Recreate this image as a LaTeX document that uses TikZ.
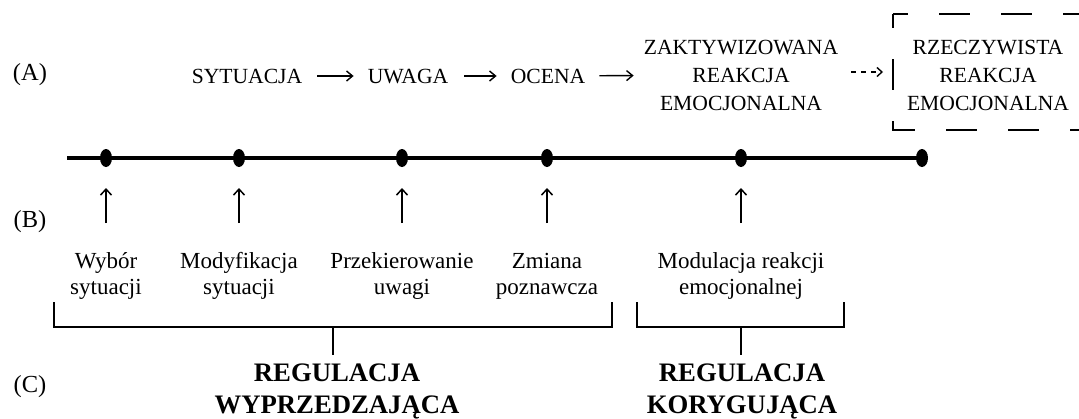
\documentclass[tikz,border=0pt]{standalone}
\usepackage{fontspec}
\setmainfont{Liberation Serif}
\usetikzlibrary{arrows.meta,shapes.geometric}
\begin{document}
\begin{tikzpicture}[x=1pt,y=-1pt,
  atext/.style={inner sep=0pt, font=\fontsize{21.6}{28}\selectfont, align=center},
  aone/.style={atext, text height=14.3pt, text depth=0pt},
  btext/.style={inner sep=0pt, font=\fontsize{23}{26.5}\selectfont, align=center, anchor=north},
  ctext/.style={inner sep=0pt, font=\fontsize{26.7}{32}\selectfont\bfseries, align=center, anchor=north},
  lbl/.style={inner sep=0pt, font=\fontsize{24.5}{28}\selectfont},
  tdot/.style={ellipse, fill=black, minimum width=12pt, minimum height=18pt, inner sep=0pt},
  flow/.style={line width=1.4pt, -{Straight Barb[length=6pt,width=10pt,line width=1.4pt]}},
  dashflow/.style={line width=1.4pt, dash pattern=on 5pt off 5pt, -{Straight Barb[length=5pt,width=9pt,line width=1.4pt]}},
  uparrow/.style={line width=1.5pt, -{Straight Barb[length=6pt,width=11pt,line width=1.5pt]}},
  timeline/.style={line width=4pt},
  bracketline/.style={line width=2pt},
  boxline/.style={line width=2.6pt, dash pattern=on 31pt off 31pt}
]
\fill[white] (0,0) rectangle (1079,418);
\useasboundingbox (0,0) rectangle (1079,418);

% row labels
\node[lbl] (la) at (30,75) {(A)};
\node[lbl] (lb) at (30,222) {(B)};
\node[lbl] (lc) at (30,387) {(C)};

% row A
\node[aone] (syt) at (247,76) {SYTUACJA};
\node[aone] (uwa) at (408,76) {UWAGA};
\node[aone] (oce) at (548,76) {OCENA};
\node[atext] (zak) at (741,75) {ZAKTYWIZOWANA\\REAKCJA\\EMOCJONALNA};
\node[atext] (rz) at (988,75) {RZECZYWISTA\\REAKCJA\\EMOCJONALNA};
\coordinate (boxnw) at (893,14);
\coordinate (boxsw) at (893,130);
\coordinate (boxw) at (893,72);
\coordinate (boxne) at (1079,14);
\coordinate (boxse) at (1079,130);

\draw[flow, shorten <=15pt, shorten >=14pt] (syt) -- (uwa);
\draw[flow, shorten <=16pt, shorten >=14pt] (uwa) -- (oce);
\draw[flow, shorten <=14pt, shorten >=10pt] (oce) -- (zak);
\draw[dashflow, shorten <=13pt, shorten >=10pt] (zak.east |- boxw) -- (boxw);
\draw[boxline, dash phase=17pt] (boxnw) -- (boxsw) -- (boxse);
\draw[boxline, dash phase=16pt] (boxnw) -- (boxne);

% timeline
\coordinate (t0) at (67,158);
\node[tdot] (d1) at (106,158) {};
\node[tdot] (d2) at (239,158) {};
\node[tdot] (d3) at (402,158) {};
\node[tdot] (d4) at (547,158) {};
\node[tdot] (d5) at (741,158) {};
\node[tdot] (d6) at (922,158) {};
\draw[timeline] (t0) -- (d6.center);

% row B
\node[btext] (wyb) at (d1 |- 0,252) {\rule{0pt}{16pt}Wybór\\sytuacji};
\node[btext] (mod) at (d2 |- 0,252) {\rule{0pt}{16pt}Modyfikacja\\sytuacji};
\node[btext] (prz) at (d3 |- 0,252) {\rule{0pt}{16pt}Przekierowanie\\uwagi};
\node[btext] (zmi) at (d4 |- 0,252) {\rule{0pt}{16pt}Zmiana\\poznawcza};
\node[btext] (mdr) at (d5 |- 0,252) {\rule{0pt}{16pt}Modulacja reakcji\\emocjonalnej};

\foreach \n/\d in {wyb/d1, mod/d2, prz/d3, zmi/d4, mdr/d5}
  \draw[uparrow, shorten <=29pt, shorten >=30pt] (\d.center |- \n.north) -- (\d.center);

% brackets
\coordinate (b1a) at (54,302);
\coordinate (b1b) at (612,302);
\coordinate (b1m) at (333,327);
\coordinate (b2a) at (637,302);
\coordinate (b2b) at (844,302);
\coordinate (b2m) at (741,327);
\draw[bracketline] (b1a) -- (b1a |- b1m) -- (b1b |- b1m) -- (b1b);
\draw[bracketline] (b2a) -- (b2a |- b2m) -- (b2b |- b2m) -- (b2b);

% row C
\node[ctext] (reg1) at (337,364) {REGULACJA\\WYPRZEDZAJĄCA};
\node[ctext] (reg2) at (742,364) {REGULACJA\\KORYGUJĄCA};
\draw[bracketline, shorten >=9pt] (b1m) -- (b1m |- reg1.north);
\draw[bracketline, shorten >=9pt] (b2m) -- (b2m |- reg2.north);
\end{tikzpicture}
\end{document}
